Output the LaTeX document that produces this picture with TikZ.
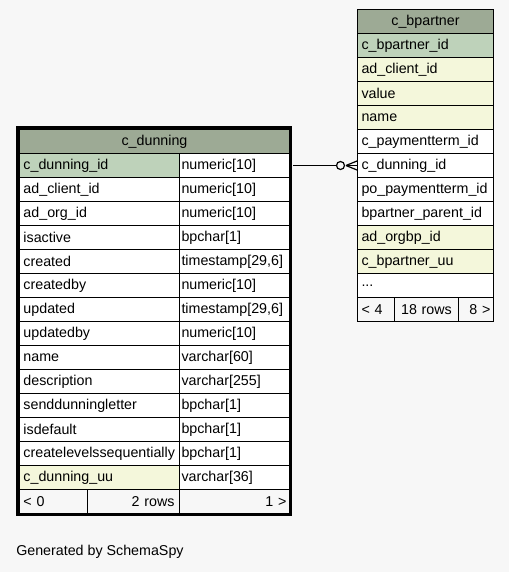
\documentclass[tikz,border=0pt]{standalone}
\usepackage{fontspec}
\setmainfont{Liberation Sans}
\usetikzlibrary{calc}
\definecolor{bgc}{HTML}{F7F7F7}
\definecolor{hdrc}{HTML}{9DAA95}
\definecolor{pkc}{HTML}{BED2BA}
\definecolor{idxc}{HTML}{F4F7DB}
\begin{document}
\begin{tikzpicture}[x=0.75pt,y=-0.75pt,
  font=\fontsize{10.7}{12}\selectfont,
  cell/.style={draw=black, line width=0.75pt, anchor=north west, minimum height=18pt,
    inner ysep=0pt, inner xsep=3pt, align=left, fill=white},
  dhdr/.style={cell, fill=hdrc, text width=196.5pt, align=center},
  dl/.style={cell, text width=114pt},
  dr/.style={cell, inner xsep=1.5pt, text width=79.5pt},
  bhdr/.style={cell, fill=hdrc, text width=96pt, align=center},
  bl/.style={cell, text width=96pt},
  foot/.style={cell, fill=bgc},
  pk/.style={fill=pkc},
  idx/.style={fill=idxc}]
\fill[bgc] (0,0) rectangle (509,572);
\useasboundingbox (0,0) rectangle (509,572);

% c_dunning table
\node[dhdr] (dh) at (19,129) {c\_dunning};
\node[dl,pk] (d1) at (19,153) {c\_dunning\_id};
\node[dr] (d1t) at (179,153) {numeric[10]};
\node[dl] (d2) at (19,177) {ad\_client\_id};
\node[dr] (d2t) at (179,177) {numeric[10]};
\node[dl] (d3) at (19,201) {ad\_org\_id};
\node[dr] (d3t) at (179,201) {numeric[10]};
\node[dl] (d4) at (19,225) {isactive};
\node[dr] (d4t) at (179,225) {bpchar[1]};
\node[dl] (d5) at (19,249) {created};
\node[dr] (d5t) at (179,249) {timestamp[29,6]};
\node[dl] (d6) at (19,273) {createdby};
\node[dr] (d6t) at (179,273) {numeric[10]};
\node[dl] (d7) at (19,297) {updated};
\node[dr] (d7t) at (179,297) {timestamp[29,6]};
\node[dl] (d8) at (19,321) {updatedby};
\node[dr] (d8t) at (179,321) {numeric[10]};
\node[dl] (d9) at (19,345) {name};
\node[dr] (d9t) at (179,345) {varchar[60]};
\node[dl] (d10) at (19,369) {description};
\node[dr] (d10t) at (179,369) {varchar[255]};
\node[dl] (d11) at (19,393) {senddunningletter};
\node[dr] (d11t) at (179,393) {bpchar[1]};
\node[dl] (d12) at (19,417) {isdefault};
\node[dr] (d12t) at (179,417) {bpchar[1]};
\node[dl] (d13) at (19,441) {createlevelssequentially};
\node[dr] (d13t) at (179,441) {bpchar[1]};
\node[dl,idx] (d14) at (19,465) {c\_dunning\_uu};
\node[dr] (d14t) at (179,465) {varchar[36]};
\node[foot, text width=45pt] (df1) at (19,489) {< 0};
\node[foot, inner xsep=3.75pt, text width=61.5pt, align=right] (df2) at (87,489) {2 rows};
\node[foot, inner xsep=2.25pt, text width=78pt, align=right] (df3) at (179,489) {1 >};
\draw[line width=2.25pt] (17.5,127.5) rectangle (290.5,514.5);

% c_bpartner table
\node[bhdr] (bh) at (357,9) {c\_bpartner};
\node[bl,pk] (b1) at (357,33) {c\_bpartner\_id};
\node[bl,idx] (b2) at (357,57) {ad\_client\_id};
\node[bl,idx] (b3) at (357,81) {value};
\node[bl,idx] (b4) at (357,105) {name};
\node[bl] (b5) at (357,129) {c\_paymentterm\_id};
\node[bl] (b6) at (357,153) {c\_dunning\_id};
\node[bl] (b7) at (357,177) {po\_paymentterm\_id};
\node[bl] (b8) at (357,201) {bpartner\_parent\_id};
\node[bl,idx] (b9) at (357,225) {ad\_orgbp\_id};
\node[bl,idx] (b10) at (357,249) {c\_bpartner\_uu};
\node[bl] (b11) at (357,273) {...};
\node[foot, text width=21.75pt] (bf1) at (357,297) {< 4};
\node[foot, inner xsep=1pt, text width=46pt, align=center] (bf2) at (394,297) {18 rows};
\node[foot, inner xsep=2.25pt, text width=21.75pt, align=right] (bf3) at (458,297) {8 >};

% relationship
\coordinate (rs) at ($(d1t.east)+(3,0)$);
\coordinate (oc) at ($(b6.west)+(-16.5,0)$);
\coordinate (cf) at ($(b6.west)+(-11,0)$);
\draw[line width=0.75pt] (rs) -- ($(oc)+(-4,0)$);
\draw[line width=0.9pt, fill=bgc] (oc) circle [radius=3pt];
\draw[line width=0.9pt] (cf) -- ($(b6.west)+(0,-4.5)$);
\draw[line width=0.9pt] (cf) -- (b6.west);
\draw[line width=0.9pt] (cf) -- ($(b6.west)+(0,4.5)$);

\node[anchor=base west, inner sep=0pt] (gen) at (16,555) {Generated by SchemaSpy};
\end{tikzpicture}
\end{document}
